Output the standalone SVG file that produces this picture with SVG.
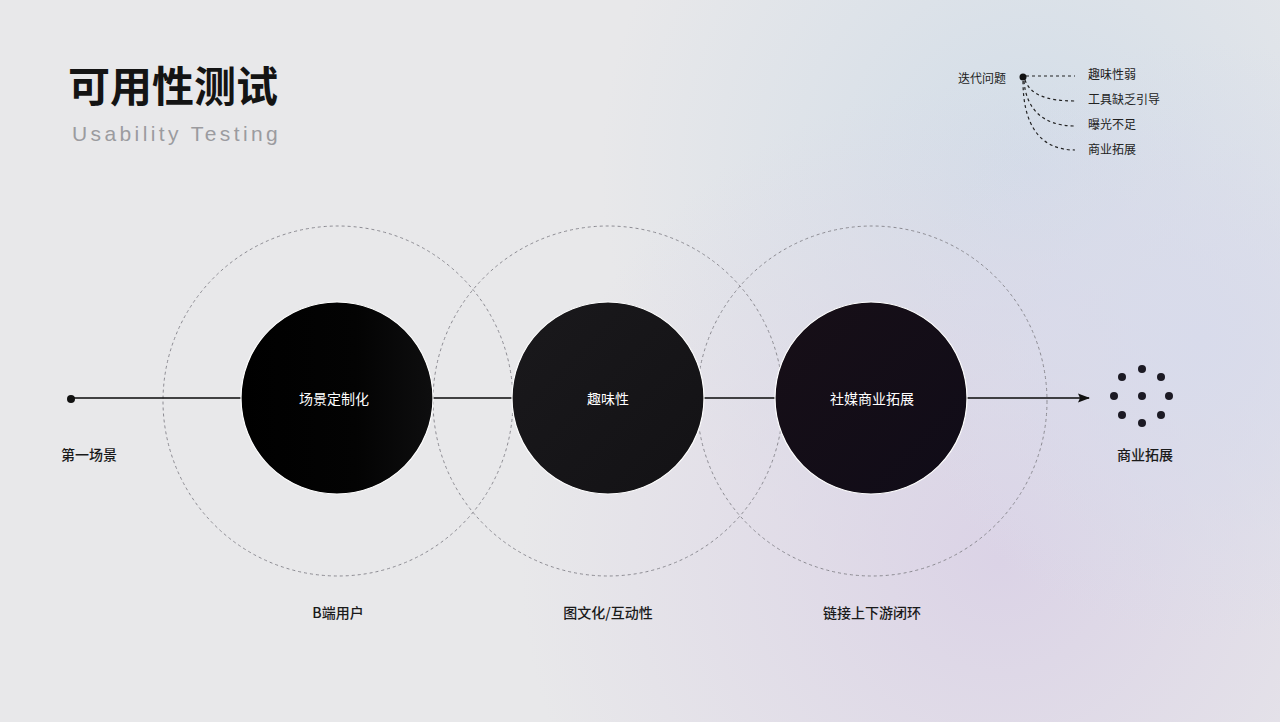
<svg xmlns="http://www.w3.org/2000/svg" width="1280" height="722" viewBox="0 0 1280 722">
<defs>
<radialGradient id="bgBlue" cx="1030" cy="170" r="430" gradientUnits="userSpaceOnUse">
<stop offset="0" stop-color="#d2dde8" stop-opacity="1"/>
<stop offset="1" stop-color="#d2dde8" stop-opacity="0"/>
</radialGradient>
<radialGradient id="bgPurple" cx="1000" cy="560" r="480" gradientUnits="userSpaceOnUse">
<stop offset="0" stop-color="#dbd3e6" stop-opacity="1"/>
<stop offset="1" stop-color="#dbd3e6" stop-opacity="0"/>
</radialGradient>
<radialGradient id="bgRight" cx="1200" cy="340" r="300" gradientUnits="userSpaceOnUse">
<stop offset="0" stop-color="#d8dbeb" stop-opacity="1"/>
<stop offset="1" stop-color="#d8dbeb" stop-opacity="0"/>
</radialGradient>
<linearGradient id="g1" x1="0" y1="0" x2="1" y2="0">
<stop offset="0" stop-color="#000000"/>
<stop offset="0.6" stop-color="#030303"/>
<stop offset="1" stop-color="#0e0e0f"/>
</linearGradient>
<linearGradient id="g2" x1="0" y1="0" x2="1" y2="1">
<stop offset="0" stop-color="#1a191c"/>
<stop offset="1" stop-color="#131215"/>
</linearGradient>
<linearGradient id="g3" x1="0" y1="0" x2="1" y2="1">
<stop offset="0" stop-color="#170f17"/>
<stop offset="1" stop-color="#100c18"/>
</linearGradient>
<marker id="arrow" viewBox="0 0 12 10" refX="11" refY="5" markerWidth="12" markerHeight="10" markerUnits="userSpaceOnUse" orient="auto">
<path d="M0,0.5 L12,5 L0,9.5 L2,5 Z" fill="#111"/>
</marker>
<style>
.ring{fill:none;stroke:#8c8b92;stroke-width:1;stroke-dasharray:3 3}
.core{stroke:#ffffff;stroke-width:1.2}
.inner{font-family:"Noto Sans CJK SC","Noto Sans",sans-serif;font-size:14px;fill:#ffffff;text-anchor:middle;dominant-baseline:central;font-weight:400}
.lbl{font-family:"Noto Sans CJK SC","Noto Sans",sans-serif;font-size:14px;fill:#1a1a1a;text-anchor:middle;dominant-baseline:central;font-weight:500}
.small{font-family:"Noto Sans CJK SC","Noto Sans",sans-serif;font-size:12px;fill:#222;dominant-baseline:central}
.dash{fill:none;stroke:#222;stroke-width:1.2;stroke-dasharray:3 3}
.dot{fill:#1c1a24}
</style>
</defs>
<rect x="0" y="0" width="1280" height="722" fill="#e8e8ea"/>
<rect x="0" y="0" width="1280" height="722" fill="url(#bgBlue)"/>
<rect x="0" y="0" width="1280" height="722" fill="url(#bgPurple)"/>
<rect x="0" y="0" width="1280" height="722" fill="url(#bgRight)"/>

<g id="title">
<text x="68" y="102" font-family="'Noto Sans CJK SC','Noto Sans',sans-serif" font-size="42" font-weight="700" fill="#141414">可用性测试</text>
<text x="72" y="141" font-family="'Liberation Sans','Noto Sans',sans-serif" font-size="21" letter-spacing="3.4" fill="#9b9b9f">Usability Testing</text>
</g>

<g id="rings">
<circle class="ring" cx="338" cy="401" r="175"/>
<circle class="ring" cx="608" cy="401" r="175"/>
<circle class="ring" cx="872" cy="401" r="175"/>
</g>

<g id="connectors">
<line x1="71" y1="398" x2="1089" y2="398" stroke="#0a0a0a" stroke-width="1.3" marker-end="url(#arrow)"/>
<path class="dash" d="M1026,76 L1075,76"/>
<path class="dash" d="M1025,80 C1030,94 1045,101 1075,101"/>
<path class="dash" d="M1024,81 C1026,108 1042,126 1075,126"/>
<path class="dash" d="M1023,81 C1023,125 1040,150 1075,150"/>
</g>

<g id="start">
<circle cx="71" cy="399" r="4" fill="#111"/>
<text class="lbl" x="89" y="454">第一场景</text>
</g>

<g id="node1">
<circle class="core" cx="337" cy="398" r="96" fill="url(#g1)"/>
<text class="inner" x="334" y="398">场景定制化</text>
<text class="lbl" x="338" y="612">B端用户</text>
</g>

<g id="node2">
<circle class="core" cx="608" cy="398" r="96" fill="url(#g2)"/>
<text class="inner" x="608" y="398">趣味性</text>
<text class="lbl" x="608" y="612">图文化/互动性</text>
</g>

<g id="node3">
<circle class="core" cx="871" cy="398" r="96" fill="url(#g3)"/>
<text class="inner" x="872" y="398">社媒商业拓展</text>
<text class="lbl" x="872" y="612">链接上下游闭环</text>
</g>

<g id="end">
<circle class="dot" cx="1142" cy="369" r="4"/>
<circle class="dot" cx="1122" cy="377" r="4"/>
<circle class="dot" cx="1161" cy="377" r="4"/>
<circle class="dot" cx="1114" cy="396" r="4"/>
<circle class="dot" cx="1142" cy="396" r="4"/>
<circle class="dot" cx="1169" cy="396" r="4"/>
<circle class="dot" cx="1122" cy="415" r="4"/>
<circle class="dot" cx="1161" cy="415" r="4"/>
<circle class="dot" cx="1142" cy="423" r="4"/>
<text class="lbl" x="1145" y="454">商业拓展</text>
</g>

<g id="issues">
<text class="small" x="958" y="77">迭代问题</text>
<circle cx="1023" cy="77" r="3.5" fill="#111"/>
<text class="small" x="1088" y="73">趣味性弱</text>
<text class="small" x="1088" y="98">工具缺乏引导</text>
<text class="small" x="1088" y="123">曝光不足</text>
<text class="small" x="1088" y="148">商业拓展</text>
</g>
</svg>
